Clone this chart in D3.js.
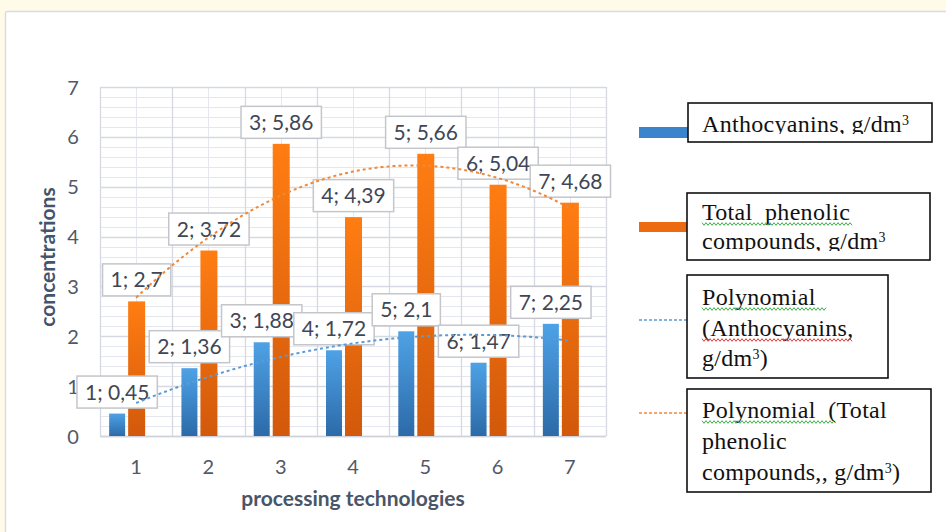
<!DOCTYPE html>
<html>
<head>
<meta charset="utf-8">
<script src="https://cdn.jsdelivr.net/npm/d3@7"></script>
<style>
  html, body { margin: 0; padding: 0; background: #fffbe8; }
  svg { display: block; }
</style>
</head>
<body>
<script>
// ---------- data ----------
const categories = ["1", "2", "3", "4", "5", "6", "7"];
const anthocyanins = [0.45, 1.36, 1.88, 1.72, 2.1, 1.47, 2.25];
const phenolics = [2.7, 3.72, 5.86, 4.39, 5.66, 5.04, 4.68];
const yTicks = [0, 1, 2, 3, 4, 5, 6, 7];
const xTitle = "processing technologies";
const yTitle = "concentrations";
const legendAnth = ["Anthocyanins, g/dm³"];
const legendPhen = ["Total  phenolic", "compounds, g/dm³"];
const legendPolyAnth = ["Polynomial", "(Anthocyanins,", "g/dm³)"];
const legendPolyPhen = ["Polynomial  (Total", "phenolic", "compounds,, g/dm³)"];

// ---------- setup ----------
const W = 946, H = 532;
const svg = d3.select("body").append("svg").attr("width", W).attr("height", H);
const defs = svg.append("defs");

function grad(id, top, bottom) {
  const g = defs.append("linearGradient").attr("id", id)
    .attr("x1", 0).attr("y1", 0).attr("x2", 0).attr("y2", 1);
  g.append("stop").attr("offset", "0%").attr("stop-color", top);
  g.append("stop").attr("offset", "100%").attr("stop-color", bottom);
}
grad("gBlue", "#4ea2e6", "#2c6aa8");
grad("gOrange", "#ff7d12", "#d2590b");

// page panel
svg.append("rect").attr("x", 0).attr("y", 0).attr("width", W).attr("height", H).attr("fill", "#fffbe8");
svg.append("rect").attr("x", 5.5).attr("y", 11.5).attr("width", W).attr("height", H)
  .attr("fill", "#ffffff").attr("stroke", "#d6dbe4").attr("stroke-width", 1.5).attr("rx", 2);

const plot = { left: 100, right: 606, top: 87, bottom: 436 };
const x = d3.scaleBand().domain(categories).range([plot.left, plot.right]).padding(0);
const y = d3.scaleLinear().domain([0, 7]).range([plot.bottom, plot.top]);
const bw = x.bandwidth();
const cx = c => x(c) + bw / 2;
const xNum = d3.scaleLinear().domain([1, 7]).range([cx("1"), cx("7")]);

// ---------- gridlines ----------
const grid = svg.append("g");
const minorY = d3.range(0, 7.0001, 0.2);
grid.selectAll("line.hmin").data(minorY).join("line")
  .attr("x1", plot.left).attr("x2", plot.right)
  .attr("y1", d => Math.round(y(d)) + 0.5).attr("y2", d => Math.round(y(d)) + 0.5)
  .attr("stroke", "#e6e7ee").attr("stroke-width", 1);
grid.selectAll("line.vmin").data(categories).join("line")
  .attr("x1", d => Math.round(cx(d)) + 0.5).attr("x2", d => Math.round(cx(d)) + 0.5)
  .attr("y1", plot.top).attr("y2", plot.bottom)
  .attr("stroke", "#e6e7ee");
grid.selectAll("line.hmaj").data(yTicks).join("line")
  .attr("x1", plot.left).attr("x2", plot.right)
  .attr("y1", d => Math.round(y(d)) + 0.5).attr("y2", d => Math.round(y(d)) + 0.5)
  .attr("stroke", "#d7d9e2").attr("stroke-width", 1.3);
const bounds = categories.map(c => x(c)).concat([plot.right]);
grid.selectAll("line.vmaj").data(bounds).join("line")
  .attr("x1", d => Math.round(d) + 0.5).attr("x2", d => Math.round(d) + 0.5)
  .attr("y1", plot.top).attr("y2", plot.bottom)
  .attr("stroke", "#d7d9e2").attr("stroke-width", 1.3);
svg.append("line").attr("x1", plot.left).attr("x2", plot.right)
  .attr("y1", plot.bottom + 0.5).attr("y2", plot.bottom + 0.5)
  .attr("stroke", "#cfd2da").attr("stroke-width", 1.5);

// ---------- axes labels ----------
const tickColor = "#50586a";
svg.append("g").selectAll("text").data(yTicks).join("text")
  .attr("x", 73).attr("y", d => y(d) + 7.5)
  .attr("text-anchor", "middle")
  .attr("font-family", "Lato, 'Open Sans', sans-serif").attr("font-size", 20)
  .attr("fill", tickColor).text(d => d);
svg.append("g").selectAll("text").data(categories).join("text")
  .attr("x", d => cx(d)).attr("y", 474)
  .attr("text-anchor", "middle")
  .attr("font-family", "Lato, 'Open Sans', sans-serif").attr("font-size", 20)
  .attr("fill", tickColor).text(d => d);
svg.append("text").attr("x", (plot.left + plot.right) / 2).attr("y", 506)
  .attr("text-anchor", "middle")
  .attr("font-family", "Lato, 'Open Sans', sans-serif").attr("font-size", 21).attr("font-weight", "bold")
  .attr("fill", "#4a5568").text(xTitle);
svg.append("text").attr("transform", "translate(55,257) rotate(-90)")
  .attr("text-anchor", "middle")
  .attr("font-family", "Lato, 'Open Sans', sans-serif").attr("font-size", 21).attr("font-weight", "bold")
  .attr("fill", "#44546a").text(yTitle);

// ---------- bars ----------
const blueOff = -27, orangeOff = -8, blueW = 16, orangeW = 17;
const series = [
  { vals: anthocyanins, off: blueOff, w: blueW, fill: "url(#gBlue)" },
  { vals: phenolics, off: orangeOff, w: orangeW, fill: "url(#gOrange)" }
];
series.forEach(s => {
  svg.append("g").selectAll("rect").data(categories).join("rect")
    .attr("x", (c) => cx(c) + s.off)
    .attr("y", (c, i) => y(s.vals[i]))
    .attr("width", s.w)
    .attr("height", (c, i) => y(0) - y(s.vals[i]))
    .attr("fill", s.fill);
});

// ---------- data labels ----------
const fmt = v => String(v).replace(".", ",");
const labelG = svg.append("g");
series.forEach(s => {
  categories.forEach((c, i) => {
    const g = labelG.append("g");
    const bx = cx(c) + s.off + s.w / 2;
    const bottom = y(s.vals[i]) - 5.5;
    const t = g.append("text")
      .attr("x", bx).attr("y", bottom - 16 + 7.5)
      .attr("text-anchor", "middle")
      .attr("font-family", "Lato, 'Open Sans', sans-serif").attr("font-size", 21)
      .attr("fill", "#3f4756")
      .text(`${c}; ${fmt(s.vals[i])}`);
    const tw = t.node().getComputedTextLength();
    g.insert("rect", "text")
      .attr("x", bx - tw / 2 - 8).attr("y", bottom - 32)
      .attr("width", tw + 16).attr("height", 32)
      .attr("fill", "#ffffff").attr("stroke", "#c4c6cb").attr("stroke-width", 1.5);
  });
});

// ---------- polynomial trendlines (order 2 least squares) ----------
function polyfit2(xs, ys) {
  let S = [0, 0, 0, 0, 0], T = [0, 0, 0];
  xs.forEach((xv, i) => {
    for (let k = 0; k < 5; k++) S[k] += Math.pow(xv, k);
    for (let k = 0; k < 3; k++) T[k] += ys[i] * Math.pow(xv, k);
  });
  const M = [[S[0], S[1], S[2]], [S[1], S[2], S[3]], [S[2], S[3], S[4]]];
  const det = m => m[0][0] * (m[1][1] * m[2][2] - m[1][2] * m[2][1])
    - m[0][1] * (m[1][0] * m[2][2] - m[1][2] * m[2][0])
    + m[0][2] * (m[1][0] * m[2][1] - m[1][1] * m[2][0]);
  const D = det(M);
  const coef = [0, 1, 2].map(j => {
    const Mj = M.map((row, r) => row.map((v, cc) => cc === j ? T[r] : v));
    return det(Mj) / D;
  });
  return xv => coef[0] + coef[1] * xv + coef[2] * xv * xv;
}
const xsNum = categories.map(Number);
const fitA = polyfit2(xsNum, anthocyanins);
const fitP = polyfit2(xsNum, phenolics);
const samples = d3.range(1, 7.0001, 0.05);
const line = f => d3.line().x(d => xNum(d)).y(d => y(f(d)))(samples);
svg.append("path").attr("d", line(fitA)).attr("fill", "none")
  .attr("stroke", "#5b9bd5").attr("stroke-width", 2).attr("stroke-dasharray", "3,3");
svg.append("path").attr("d", line(fitP)).attr("fill", "none")
  .attr("stroke", "#f0883a").attr("stroke-width", 2).attr("stroke-dasharray", "3,3");

// ---------- legend ----------
const lg = svg.append("g");
const serif = "'Liberation Serif', 'Times New Roman', serif";
function squiggle(x0, x1, yy, color) {
  const pts = [];
  for (let xx = x0, k = 0; xx <= x1; xx += 2, k++) pts.push([xx, yy + (k % 2 ? 1.3 : -1.3)]);
  lg.append("path").attr("d", d3.line()(pts)).attr("fill", "none")
    .attr("stroke", color).attr("stroke-width", 1);
}
function writeSuper(textSel, str) {
  const idx = str.indexOf("³");
  if (idx < 0) { textSel.text(str); return; }
  textSel.append("tspan").text(str.slice(0, idx));
  textSel.append("tspan").attr("font-size", 14).attr("dy", -7).text("3");
  if (idx + 1 < str.length) textSel.append("tspan").attr("dy", 7).text(str.slice(idx + 1));
}
function legendBox(bx, by, bw2, bh, lines, baseY, clipLast) {
  lg.append("rect").attr("x", bx).attr("y", by).attr("width", bw2).attr("height", bh)
    .attr("fill", "#ffffff").attr("stroke", "#111").attr("stroke-width", 1.6);
  lines.forEach((ln, i) => {
    const t = lg.append("text").attr("x", 702).attr("y", baseY[i])
      .attr("font-family", serif).attr("font-size", 24).attr("fill", "#111")
      .attr("letter-spacing", 0.3)
      .style("white-space", "pre");
    if (clipLast && i === lines.length - 1) {
      const id = "clip" + Math.round(by);
      defs.append("clipPath").attr("id", id).append("rect")
        .attr("x", bx).attr("y", baseY[i] - 30).attr("width", bw2).attr("height", 32);
      t.attr("clip-path", `url(#${id})`);
    }
    writeSuper(t, ln);
  });
}
// item 1
lg.append("rect").attr("x", 639).attr("y", 127).attr("width", 49).attr("height", 11).attr("fill", "#3a84cc");
legendBox(688, 103, 244, 39, legendAnth, [132], true);
// item 2
lg.append("rect").attr("x", 639).attr("y", 222).attr("width", 48).attr("height", 10).attr("fill", "#ec6a10");
legendBox(687, 193, 243, 67, legendPhen, [220, 249], true);
squiggle(702, 852, 224, "#3cae46");
// item 3
lg.append("line").attr("x1", 639).attr("x2", 687).attr("y1", 320).attr("y2", 320)
  .attr("stroke", "#5b9bd5").attr("stroke-width", 1.5).attr("stroke-dasharray", "3,2");
legendBox(687, 275, 201, 103, legendPolyAnth, [305, 336, 366], false);
squiggle(702, 827, 309, "#3cae46");
squiggle(702, 853, 340, "#e03a3a");
// item 4
lg.append("line").attr("x1", 639).attr("x2", 687).attr("y1", 413).attr("y2", 413)
  .attr("stroke", "#f0883a").attr("stroke-width", 1.5).attr("stroke-dasharray", "3,2");
legendBox(687, 389, 244, 103, legendPolyPhen, [418, 449, 480], false);
squiggle(702, 835, 422, "#3cae46");
</script>
</body>
</html>
